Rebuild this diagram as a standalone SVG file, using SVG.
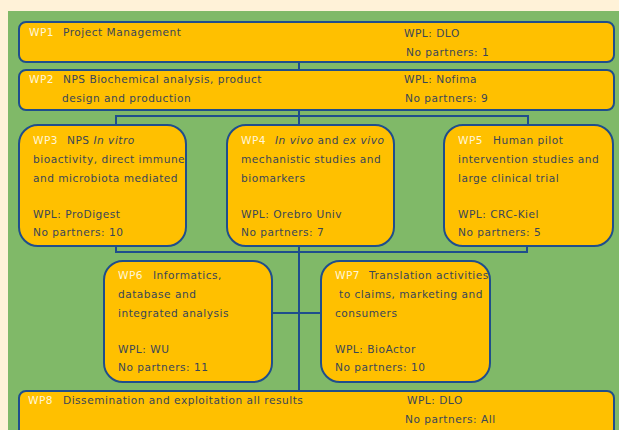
<svg xmlns="http://www.w3.org/2000/svg" width="619" height="430" viewBox="0 0 619 430">
<style>
.box{fill:#FFC000;stroke:#1F4E8C;stroke-width:2}
.ln{fill:none;stroke:#1F4E8C;stroke-width:2}
text{font-family:"DejaVu Sans","Liberation Sans",sans-serif;font-size:10.6px;letter-spacing:0.5px;fill:#3A4658}
.wp{fill:#FFF6D8}
.it{font-style:italic}
</style>
<rect width="619" height="430" fill="#FFF2D8"/>
<rect x="8" y="11" width="611" height="419" fill="#80B968"/>
<g id="connectors">
<line class="ln" x1="299" y1="62" x2="299" y2="391"/>
<polyline class="ln" points="116,126 116,116 528,116 528,126"/>
<polyline class="ln" points="116,246 116,252 527,252 527,246"/>
<line class="ln" x1="272" y1="313" x2="321" y2="313"/>
</g>
<g id="wp1">
<rect class="box" x="19" y="22" width="595" height="40" rx="7"/>
<text x="29" y="36"><tspan class="wp">WP1</tspan><tspan x="63">Project Management</tspan></text>
<text x="404" y="37">WPL: DLO</text>
<text x="406" y="56">No partners: 1</text>
</g>
<g id="wp2">
<rect class="box" x="19" y="70" width="595" height="40" rx="7"/>
<text x="29" y="83"><tspan class="wp">WP2</tspan><tspan x="63">NPS Biochemical analysis, product</tspan></text>
<text x="62" y="102">design and production</text>
<text x="404" y="83">WPL: Nofima</text>
<text x="405" y="102">No partners: 9</text>
</g>
<g id="wp3">
<rect class="box" x="19" y="125" width="167" height="121" rx="19"/>
<text x="33" y="144"><tspan class="wp">WP3</tspan><tspan x="67">NPS </tspan><tspan class="it">In vitro</tspan></text>
<text x="33" y="163">bioactivity, direct immune</text>
<text x="33" y="182">and microbiota mediated</text>
<text x="33" y="218">WPL: ProDigest</text>
<text x="33" y="236">No partners: 10</text>
</g>
<g id="wp4">
<rect class="box" x="227" y="125" width="167" height="121" rx="19"/>
<text x="241" y="144"><tspan class="wp">WP4</tspan><tspan x="275" class="it">In vivo</tspan><tspan> and </tspan><tspan class="it">ex vivo</tspan></text>
<text x="241" y="163">mechanistic studies and</text>
<text x="241" y="182">biomarkers</text>
<text x="241" y="218">WPL: Orebro Univ</text>
<text x="241" y="236">No partners: 7</text>
</g>
<g id="wp5">
<rect class="box" x="444" y="125" width="169" height="121" rx="19"/>
<text x="458" y="144"><tspan class="wp">WP5</tspan><tspan x="493">Human pilot</tspan></text>
<text x="458" y="163">intervention studies and</text>
<text x="458" y="182">large clinical trial</text>
<text x="458" y="218">WPL: CRC-Kiel</text>
<text x="458" y="236">No partners: 5</text>
</g>
<g id="wp6">
<rect class="box" x="104" y="261" width="168" height="121" rx="19"/>
<text x="118" y="279"><tspan class="wp">WP6</tspan><tspan x="153">Informatics,</tspan></text>
<text x="118" y="298">database and</text>
<text x="118" y="317">integrated analysis</text>
<text x="118" y="353">WPL: WU</text>
<text x="118" y="371">No partners: 11</text>
</g>
<g id="wp7">
<rect class="box" x="321" y="261" width="169" height="121" rx="19"/>
<text x="335" y="279"><tspan class="wp">WP7</tspan><tspan x="369">Translation activities</tspan></text>
<text x="339" y="298">to claims, marketing and</text>
<text x="335" y="317">consumers</text>
<text x="335" y="353">WPL: BioActor</text>
<text x="335" y="371">No partners: 10</text>
</g>
<g id="wp8">
<rect class="box" x="19" y="391" width="595" height="45" rx="7"/>
<text x="28" y="404"><tspan class="wp">WP8</tspan><tspan x="63">Dissemination and exploitation all results</tspan></text>
<text x="407" y="404">WPL: DLO</text>
<text x="405" y="423">No partners: All</text>
</g>
</svg>
